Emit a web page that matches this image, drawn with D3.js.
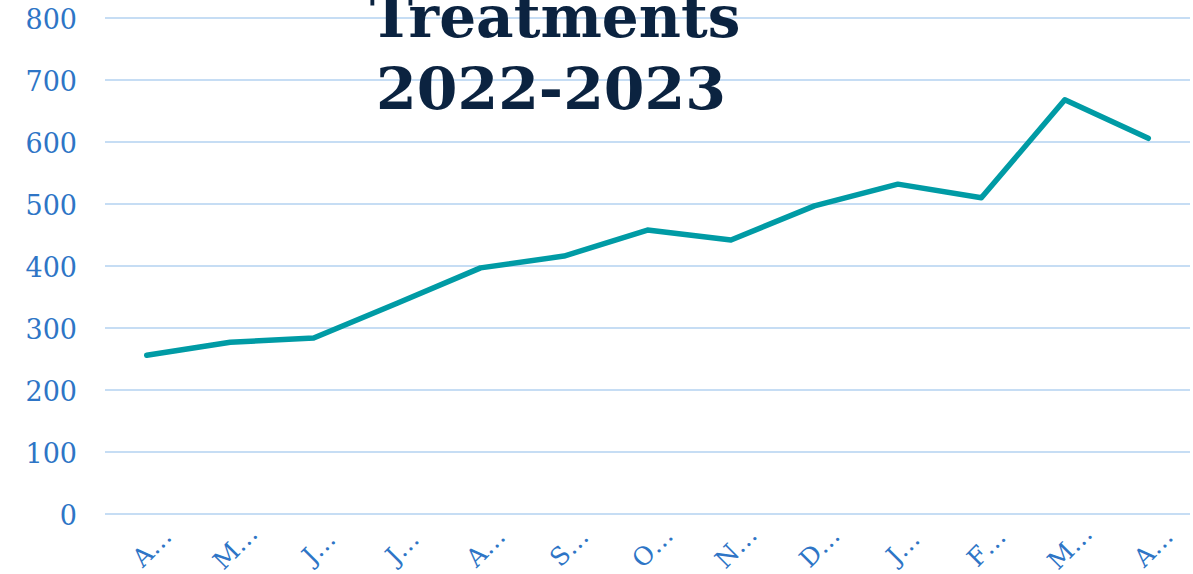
<!DOCTYPE html>
<html>
<head>
<meta charset="utf-8">
<script src="https://cdn.jsdelivr.net/npm/d3@7"></script>
<style>
  html, body { margin: 0; padding: 0; background: #ffffff; overflow: hidden; }
  .y-axis text, .x-axis text { font-family: "DejaVu Serif", serif; fill: #2E75C6; }
</style>
</head>
<body>
<div class="line-chart-container"></div>
<script>
// Data.
const months = ['Apr-22', 'May-22', 'Jun-22', 'Jul-22', 'Aug-22', 'Sep-22', 'Oct-22',
                'Nov-22', 'Dec-22', 'Jan-23', 'Feb-23', 'Mar-23', 'Apr-23'];
const treatments = [256, 277, 284, 340, 397, 416, 458, 442, 497, 532, 510, 668, 606];
const yTicks = [0, 100, 200, 300, 400, 500, 600, 700, 800];
const titleLines = ['Treatments', '2022-2023'];

const width = 1193;
const height = 574;
const margin = {top: 18, right: 3, bottom: 60, left: 105};

const svg = d3
    .select('.line-chart-container')
    .append('svg')
    .attr('width', width)
    .attr('height', height);

// Scales
const xScale = d3
    .scaleBand()
    .domain(months)
    .range([margin.left, width - margin.right]);

const yScale = d3
    .scaleLinear()
    .domain([0, 800])
    .range([height - margin.bottom, margin.top]);

// Gridlines
svg.append('g')
    .selectAll('line')
    .data(yTicks)
    .enter()
    .append('line')
    .attr('x1', margin.left)
    .attr('x2', width - margin.right)
    .attr('y1', d => yScale(d))
    .attr('y2', d => yScale(d))
    .attr('stroke', '#C6DDF4')
    .attr('stroke-width', 2);

// Y axis
const axisY = d3.axisLeft(yScale)
    .tickValues(yTicks)
    .tickSize(0)
    .tickPadding(0);

svg.append('g')
    .attr('class', 'y-axis')
    .attr('transform', 'translate(77, 0)')
    .call(axisY)
    .call(g => g.select('.domain').remove())
    .selectAll('text')
    .attr('dy', '0.4em')
    .style('font-size', '27px');

// X axis (labels shown truncated, as in the original)
const axisX = d3.axisBottom(xScale)
    .tickSize(0)
    .tickFormat(d => d.charAt(0) + '\u2026');

svg.append('g')
    .attr('class', 'x-axis')
    .attr('transform', `translate(0, ${height - margin.bottom})`)
    .call(axisX)
    .call(g => g.select('.domain').remove())
    .selectAll('text')
    .attr('y', 0)
    .attr('dy', '0.35em')
    .attr('text-anchor', 'middle')
    .attr('transform', 'translate(5, 33) rotate(-45)')
    .style('font-size', '25px');

// Line
const line = d3.line()
    .x((d, i) => xScale(months[i]) + xScale.bandwidth() / 2)
    .y(d => yScale(d));

svg.append('path')
    .datum(treatments)
    .attr('fill', 'none')
    .attr('stroke', '#009BA5')
    .attr('stroke-width', 5.5)
    .attr('stroke-linejoin', 'round')
    .attr('stroke-linecap', 'round')
    .attr('d', line);

// Title
const title = svg.append('text')
    .attr('text-anchor', 'middle')
    .attr('font-family', '"DejaVu Serif", serif')
    .attr('font-weight', 'bold')
    .attr('fill', '#0B2340');

title.selectAll('tspan')
    .data(titleLines)
    .enter()
    .append('tspan')
    .attr('x', (d, i) => i === 0 ? 555 : 551)
    .attr('y', (d, i) => i === 0 ? 37 : 109)
    .style('font-size', (d, i) => i === 0 ? '58px' : '58.5px')
    .text(d => d);
</script>
</body>
</html>
